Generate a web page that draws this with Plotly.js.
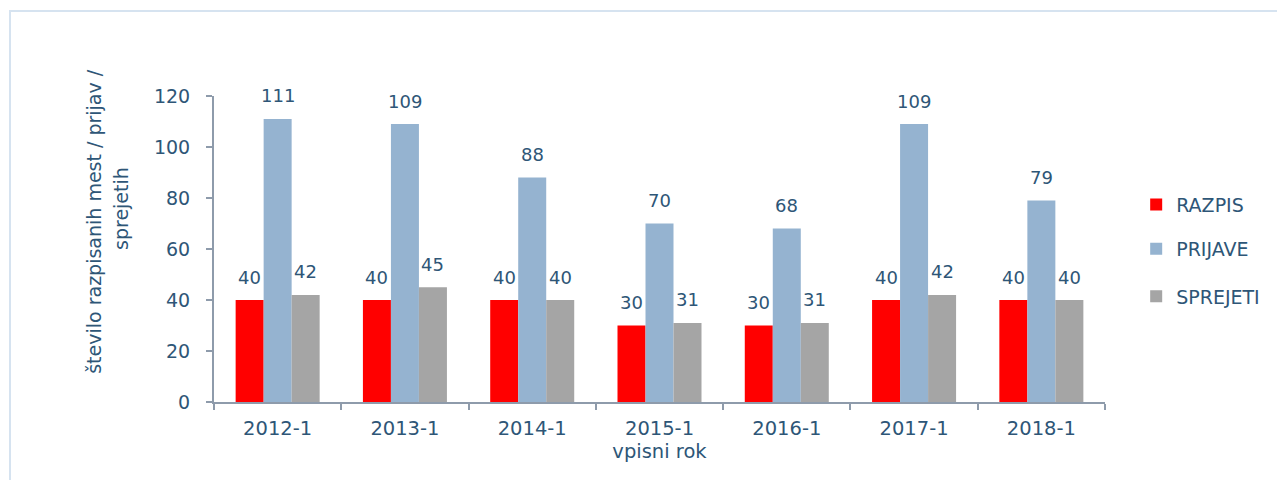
<!DOCTYPE html>
<html>
<head>
<meta charset="utf-8">
<script src="https://cdn.plot.ly/plotly-3.0.1.min.js"></script>
<style>
  html, body { margin: 0; padding: 0; background: #fff; }
  #wrap { position: relative; width: 1277px; height: 480px; }
  #frame { position: absolute; left: 9px; top: 10px; width: 1268px; height: 470px;
           border-top: 2px solid #d6e3f0; border-left: 2px solid #d6e3f0; box-sizing: border-box; pointer-events: none; }
  #chart { width: 1277px; height: 480px; }
</style>
</head>
<body>
<div id="wrap">
  <div id="chart"></div>
  <div id="frame"></div>
</div>
<script>
const categories = ["2012-1", "2013-1", "2014-1", "2015-1", "2016-1", "2017-1", "2018-1"];
const razpis   = [40, 40, 40, 30, 30, 40, 40];
const prijave  = [111, 109, 88, 70, 68, 109, 79];
const sprejeti = [42, 45, 40, 31, 31, 42, 40];
const seriesNames = ["RAZPIS", "PRIJAVE", "SPREJETI"];
const yTicks = [0, 20, 40, 60, 80, 100, 120];
const yTitleLines = ["število razpisanih mest / prijav /", "sprejetih"];

const txtColor = "#2e5677";
const fontFam = "DejaVu Sans, sans-serif";
const colors = ["#ff0000", "#95b3d0", "#a5a5a5"];
const allSeries = [razpis, prijave, sprejeti];
const legendIds = ["legend", "legend2", "legend3"];

const data = allSeries.map((vals, i) => ({
  type: "bar", name: seriesNames[i], x: categories, y: vals,
  marker: { color: colors[i] },
  legend: legendIds[i]
}));

// value labels above bars (positions from data via axis scales)
const annotations = [];
const barPx = 28;
allSeries.forEach((vals, i) => {
  vals.forEach((v, j) => {
    annotations.push({
      x: categories[j], y: v, xref: "x", yref: "y",
      text: String(v), showarrow: false,
      xanchor: "center", yanchor: "middle",
      xshift: (i - 1) * barPx, yshift: 23,
      font: { size: 18, color: txtColor, family: fontFam }
    });
  });
});
// y-axis title, two rotated lines
const titleX = [-0.1347, -0.1044];
const titleY = [0.592, 0.634];
yTitleLines.forEach((t, k) => {
  annotations.push({
    x: titleX[k], y: titleY[k], xref: "paper", yref: "paper",
    text: t, showarrow: false, textangle: -90,
    xanchor: "center", yanchor: "middle",
    font: { size: 19, color: txtColor, family: fontFam }
  });
});

const legBase = (y) => ({
  x: 1.035, y: y, xref: "paper", yref: "paper", xanchor: "left", yanchor: "middle",
  font: { color: txtColor, size: 19, family: fontFam },
  bgcolor: "rgba(0,0,0,0)", itemwidth: 30
});

const layout = {
  width: 1277, height: 480,
  margin: { l: 214, r: 172, t: 96, b: 78 },
  paper_bgcolor: "#fff", plot_bgcolor: "#fff",
  font: { family: fontFam, color: txtColor },
  barmode: "group", bargap: 0.34, bargroupgap: 0,
  showlegend: true,
  legend: legBase(0.645),
  legend2: legBase(0.5),
  legend3: legBase(0.345),
  annotations: annotations,
  xaxis: {
    type: "category",
    showline: true, linecolor: "#8e9bab", linewidth: 2,
    ticks: "outside", tickson: "boundaries", ticklen: 6, tickcolor: "#8e9bab", tickwidth: 2,
    ticklabelstandoff: 8,
    tickfont: { size: 19.5, color: txtColor, family: fontFam },
    title: { text: "vpisni rok", font: { size: 19.5, color: txtColor, family: fontFam }, standoff: 3 },
    showgrid: false, zeroline: false
  },
  yaxis: {
    range: [0, 120], tickvals: yTicks, ticktext: yTicks.map(String),
    showline: true, linecolor: "#8e9bab", linewidth: 2,
    ticks: "outside", ticklen: 6, tickcolor: "#8e9bab", tickwidth: 2,
    ticklabelstandoff: 12,
    tickfont: { size: 19, color: txtColor, family: fontFam },
    showgrid: false, zeroline: false
  }
};

Plotly.newPlot("chart", data, layout, { displayModeBar: false, staticPlot: true });
</script>
</body>
</html>
